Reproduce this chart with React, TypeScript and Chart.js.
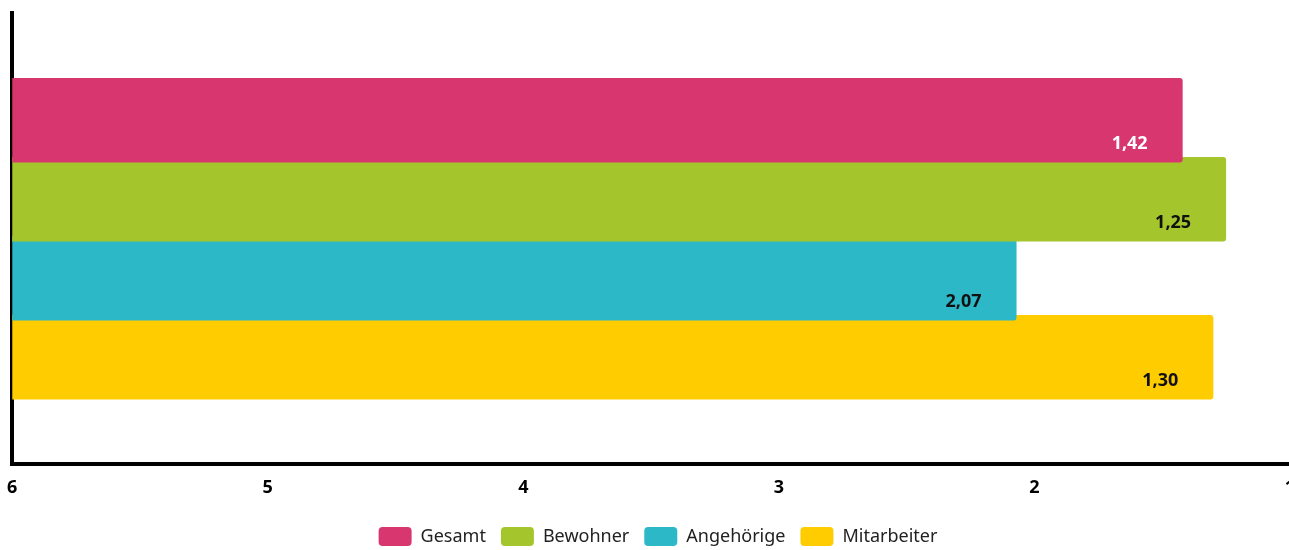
import React, { useEffect, useRef } from "react";
import { Chart, registerables } from "chart.js";

Chart.register(...registerables);

const categories = ["Ergebnis"];
const seriesNames = ["Gesamt", "Bewohner", "Angehörige", "Mitarbeiter"];
const seriesValues = [[1.42], [1.25], [2.07], [1.3]];
const seriesColors = ["#D8366E", "#A4C62C", "#2CB8C6", "#FFCC00"];
const labelColors = ["#FFFFFF", "#111111", "#111111", "#111111"];
const tickValues = [6, 5, 4, 3, 2, 1];

const valueLabels = {
  id: "valueLabels",
  afterLayout(chart: any) {
    if (chart.legend) {
      chart.legend.left += 16;
      chart.legend.right += 16;
    }
  },
  afterDatasetsDraw(chart: any) {
    const ctx = chart.ctx;
    ctx.save();
    ctx.font = 'bold 18px "Noto Sans", sans-serif';
    ctx.textAlign = "center";
    ctx.textBaseline = "middle";
    chart.data.datasets.forEach((ds: any, i: number) => {
      const meta = chart.getDatasetMeta(i);
      meta.data.forEach((el: any, j: number) => {
        const v = ds.data[j] as number;
        const h = el.height;
        ctx.fillStyle = labelColors[i];
        ctx.fillText(v.toFixed(2).replace(".", ","), el.x - 53, el.y + h / 2 - 19);
      });
    });
    ctx.restore();
  },
};

export default function App() {
  const ref = useRef<HTMLCanvasElement | null>(null);
  useEffect(() => {
    if (!ref.current) return;
    const chart = new Chart(ref.current, {
      type: "bar",
      data: {
        labels: categories,
        datasets: seriesNames.map((n, i) => ({
          label: n,
          data: seriesValues[i],
          backgroundColor: seriesColors[i],
          base: 6,
          borderRadius: 3,
          borderSkipped: "start",
          categoryPercentage: 0.7,
          barPercentage: 1.07,
        })),
      },
      options: {
        indexAxis: "y",
        animation: false,
        responsive: false,
        maintainAspectRatio: false,
        layout: { padding: { left: 0, top: 13, right: 26, bottom: -6 } },
        scales: {
          x: {
            type: "linear",
            min: 1,
            max: 6,
            reverse: true,
            afterBuildTicks: (axis: any) => {
              axis.ticks = tickValues.map((v) => ({ value: v }));
            },
            grid: { display: false, drawTicks: false },
            border: { display: true, color: "#000000", width: 4 },
            ticks: {
              color: "#000000",
              padding: 13,
              font: { family: '"Noto Sans", sans-serif', size: 18, weight: "bold" },
            },
          },
          y: {
            afterFit: (axis: any) => {
              axis.width = 7;
            },
            grid: { display: false, drawTicks: false },
            border: { display: true, color: "#000000", width: 4 },
            ticks: { display: false },
          },
        },
        plugins: {
          tooltip: { enabled: false },
          legend: {
            position: "bottom",
            labels: {
              boxWidth: 33,
              boxHeight: 19,
              useBorderRadius: true,
              borderRadius: 4,
              padding: 15,
              color: "#222222",
              font: { family: '"Noto Sans", sans-serif', size: 18 },
            },
          },
        },
      },
      plugins: [valueLabels],
    });
    return () => chart.destroy();
  }, []);
  return (
    <div style={{ position: "fixed", left: 0, top: 0, width: 1289, height: 550, overflow: "hidden", background: "#fff" }}>
      <canvas ref={ref} width={1322} height={550} style={{ display: "block", width: 1322, height: 550, marginLeft: -6 }} />
    </div>
  );
}
